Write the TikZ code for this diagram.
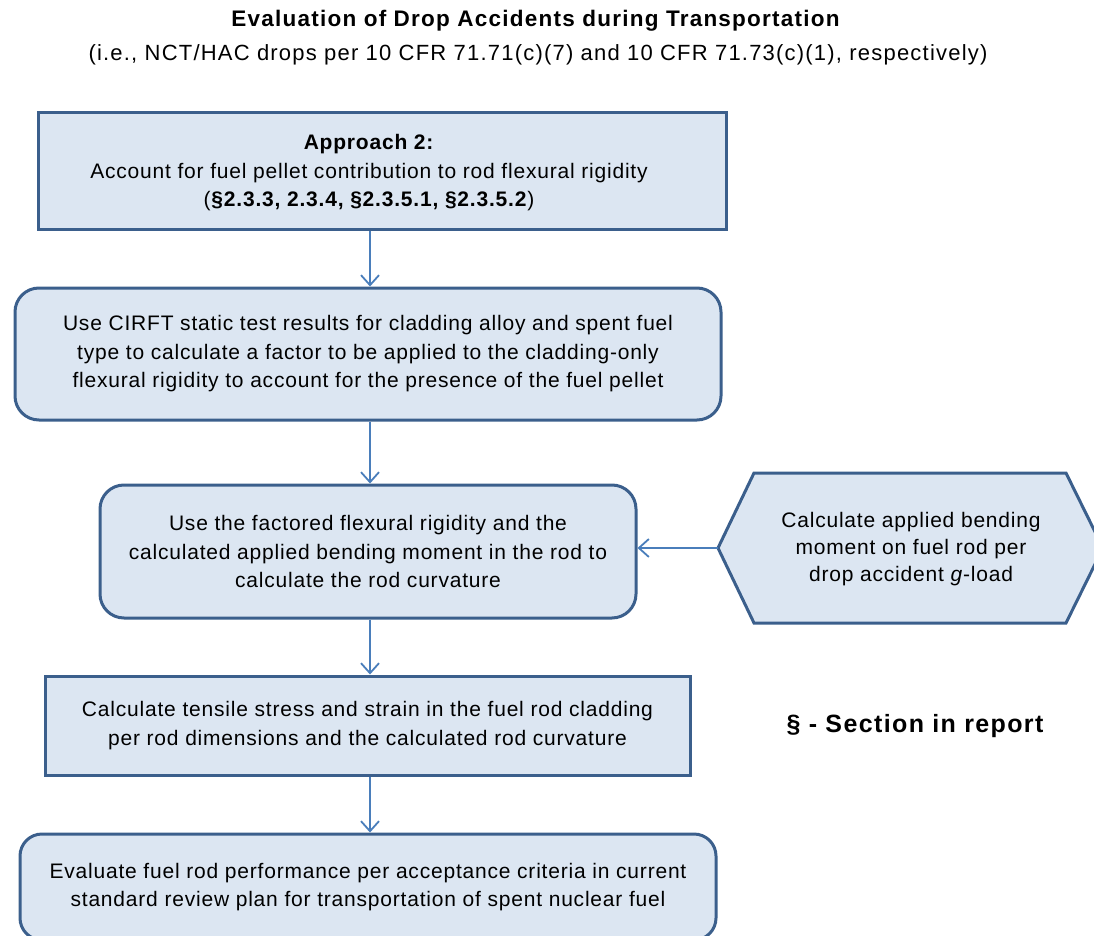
\documentclass[tikz,border=0pt]{standalone}
\usepackage{fontspec}
\setmainfont{Liberation Sans}
\newfontfamily\bodyfont[LetterSpace=3.8]{Liberation Sans}
\newfontfamily\titlefont[LetterSpace=5.5]{Liberation Sans}
\usetikzlibrary{arrows.meta}
\definecolor{boxfill}{HTML}{DCE6F2}
\definecolor{boxdraw}{HTML}{3B5F8C}
\definecolor{arrcol}{HTML}{4A7EBB}
\tikzset{
  bodytext/.style={align=center, inner sep=0pt, font=\bodyfont\fontsize{21}{28.5}\selectfont},
  boxbase/.style={draw=boxdraw, fill=boxfill, line width=3pt, bodytext},
  sqbox/.style={boxbase},
  rdbox/.style={boxbase, rounded corners=24pt},
  arr/.style={draw=arrcol, line width=1.8pt, -{Straight Barb[length=10pt,width=18pt,line width=1.8pt]}},
}
\begin{document}
\begin{tikzpicture}[x=1pt,y=-1pt]
\useasboundingbox (0,0) rectangle (1094,936);
\clip (0,0) rectangle (1094,936);
\node[font=\titlefont\fontsize{22.5}{26}\selectfont\bfseries] (t1) at (535.5,21) {Evaluation of Drop Accidents during Transportation};
\node[font=\titlefont\fontsize{22}{26}\selectfont] (t2) at (538,55) {(i.e., NCT/HAC drops per 10 CFR 71.71(c)(7) and 10 CFR 71.73(c)(1), respectively)};

\node[sqbox, minimum width=688pt, minimum height=116pt] (b1) at (382,171) {};
\node[bodytext] (b1t) at (369,173)
 {\textbf{Approach 2:}\\Account for fuel pellet contribution to rod flexural rigidity\\(\textbf{§2.3.3, 2.3.4, §2.3.5.1, §2.3.5.2})};
\node[rdbox, minimum width=706pt, minimum height=132pt] (b2) at (368,354)
 {Use CIRFT static test results for cladding alloy and spent fuel\\type to calculate a factor to be applied to the cladding-only\\flexural rigidity to account for the presence of the fuel pellet};
\node[rdbox, minimum width=536pt, minimum height=133pt] (b3) at (368,551.5)
 {Use the factored flexural rigidity and the\\calculated applied bending moment in the rod to\\calculate the rod curvature};
\node[sqbox, minimum width=645pt, minimum height=99pt] (b4) at (367.5,725.5)
 {Calculate tensile stress and strain in the fuel rod cladding\\per rod dimensions and the calculated rod curvature};
\node[rdbox, rounded corners=22pt, minimum width=696pt, minimum height=106pt] (b5) at (368,887)
 {Evaluate fuel rod performance per acceptance criteria in current\\standard review plan for transportation of spent nuclear fuel};

% hexagon
\draw[draw=boxdraw, fill=boxfill, line width=3pt, line join=miter]
  (718,548) -- (754,473) -- (1066,473) -- (1103,548) -- (1066,623) -- (754,623) -- cycle;
\coordinate (hexL) at (718,548);
\node[align=center, font=\bodyfont\fontsize{21}{27}\selectfont] (hex) at (911,549)
 {Calculate applied bending\\moment on fuel rod per\\drop accident \textit{g}-load};

\node[font=\titlefont\fontsize{25}{28}\selectfont\bfseries] (legend) at (915,726) {§ - Section in report};

\draw[arr] (b1.south -| 370,0) -- (b2.north -| 370,0);
\draw[arr] (b2.south -| 370,0) -- (b3.north -| 370,0);
\draw[arr] (b3.south -| 370,0) -- (b4.north -| 370,0);
\draw[arr] (b4.south -| 370,0) -- (b5.north -| 370,0);
\draw[arr] (hexL) -- (hexL -| b3.east);
\end{tikzpicture}
\end{document}
